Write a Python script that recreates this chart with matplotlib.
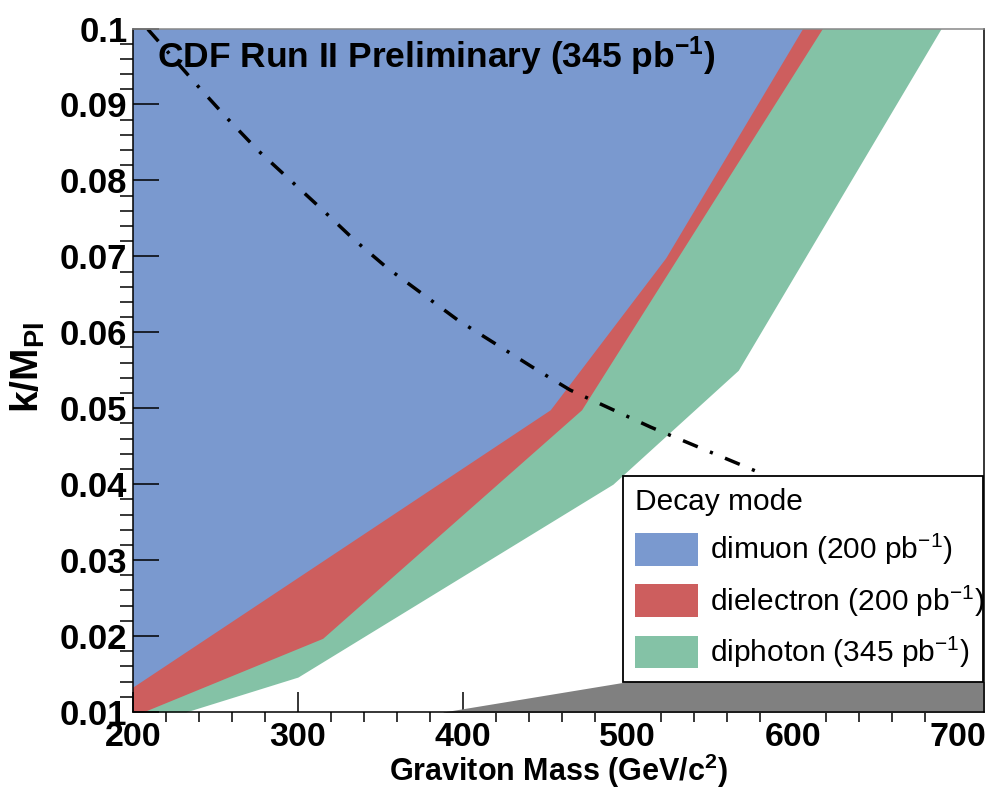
import matplotlib
matplotlib.use('Agg')
import matplotlib.pyplot as plt
from matplotlib.patches import Patch
from matplotlib.ticker import MultipleLocator

plt.rcParams['font.family'] = ['Liberation Sans', 'DejaVu Sans']
plt.rcParams['mathtext.default'] = 'regular'

# exclusion contours (graviton mass in GeV, k/M_Pl)
dimuon_mass = [200, 453, 523, 606]
dimuon_k = [0.0133, 0.0498, 0.0698, 0.1]
dielectron_mass = [206, 315, 472, 618]
dielectron_k = [0.01, 0.0197, 0.0498, 0.1]
diphoton_mass = [232, 300, 491, 567, 690]
diphoton_k = [0.01, 0.0146, 0.04, 0.055, 0.1]

# theory curve (dash-dot)
curve_mass = [209, 239, 257, 276, 295, 315, 334, 354, 397, 443, 465, 514, 579]
curve_k = [0.0999, 0.0925, 0.0882, 0.0839, 0.0801, 0.0761, 0.0722, 0.0685,
           0.0616, 0.0553, 0.0524, 0.0475, 0.0416]

# grey region at the bottom
grey_mass = [388, 500, 720]
grey_k = [0.01, 0.014, 0.014]

mass_ticks = [200, 300, 400, 500, 600, 700]
k_ticks = [0.01, 0.02, 0.03, 0.04, 0.05, 0.06, 0.07, 0.08, 0.09, 0.1]
k_ticklabels = ['0.01', '0.02', '0.03', '0.04', '0.05', '0.06', '0.07', '0.08', '0.09', '0.1']

labels = ['dimuon (200 pb$^{-1}$)', 'dielectron (200 pb$^{-1}$)', 'diphoton (345 pb$^{-1}$)']
blue, red, green, grey = '#7a99cf', '#cd5e5e', '#84c2a6', '#808080'

fig = plt.figure(figsize=(9.87, 7.90), dpi=100)
W, H = 987, 790
ax = fig.add_axes([133 / W, 78 / H, (984 - 133) / W, (712 - 28.5) / H])

ax.fill_betweenx(diphoton_k, 150, diphoton_mass, color=green, lw=0, zorder=1.0)
ax.fill_betweenx(dielectron_k, 150, dielectron_mass, color=red, lw=0, zorder=1.1)
ax.fill_betweenx(dimuon_k, 150, dimuon_mass, color=blue, lw=0, zorder=1.2)
ax.fill_between(grey_mass, 0, grey_k, color=grey, lw=0, zorder=2.6)

ax.plot(curve_mass, curve_k, color='black', lw=2.5, linestyle=(0, (4.6, 3.8, 0.9, 3.8)), zorder=2)

ax.set_xlim(200, 716)
ax.set_ylim(0.01, 0.1)
ax.set_xticks(mass_ticks)
ax.set_yticks(k_ticks)
ax.set_yticklabels(k_ticklabels)
ax.xaxis.set_minor_locator(MultipleLocator(20))
ax.yaxis.set_minor_locator(MultipleLocator(0.002))
ax.tick_params(axis='both', direction='in', width=1.1, top=False, right=False)
ax.tick_params(axis='x', which='major', length=14.4, pad=7.5, labelsize=24.5)
ax.tick_params(axis='x', which='minor', length=7.2, width=1.1)
ax.tick_params(axis='y', which='major', length=18.7, pad=4, labelsize=25)
ax.tick_params(axis='y', which='minor', length=9.4, width=1.1)
for lab in ax.get_xticklabels() + ax.get_yticklabels():
    lab.set_fontweight('bold')
for s in ax.spines.values():
    s.set_zorder(3)
    s.set_linewidth(1.1)
ax.spines['top'].set_color('#888888')

ax.set_xlabel('Graviton Mass (GeV/c$^{2}$)', fontsize=22, fontweight='bold')
ax.xaxis.set_label_coords(0.5, -0.058)
ax.set_ylabel('k/M$_{Pl}$', fontsize=28, fontweight='bold')
ax.yaxis.set_label_coords(-0.101, 0.504)

fig.text(157 / W, 1 - 68 / H, 'CDF Run II Preliminary (345 pb$^{-1}$)', fontsize=25.5,
         fontweight='bold', va='baseline', ha='left')

handles = [Patch(facecolor=c, edgecolor='none') for c in (blue, red, green)]
leg = ax.legend(handles, labels, title='Decay mode', alignment='left', loc='upper left',
                bbox_to_anchor=(623 / W, 1 - 682 / H, (983 - 623) / W, (682 - 476) / H),
                bbox_transform=fig.transFigure, mode='expand',
                borderaxespad=0, fontsize=21.5, title_fontsize=21.5, fancybox=False,
                framealpha=1, edgecolor='black', handlelength=2.1, handleheight=1.3,
                labelspacing=0.54, handletextpad=0.43, borderpad=0.4)
leg.get_frame().set_linewidth(1.3)
leg.set_zorder(5)

fig.savefig('out.png', dpi=100)
